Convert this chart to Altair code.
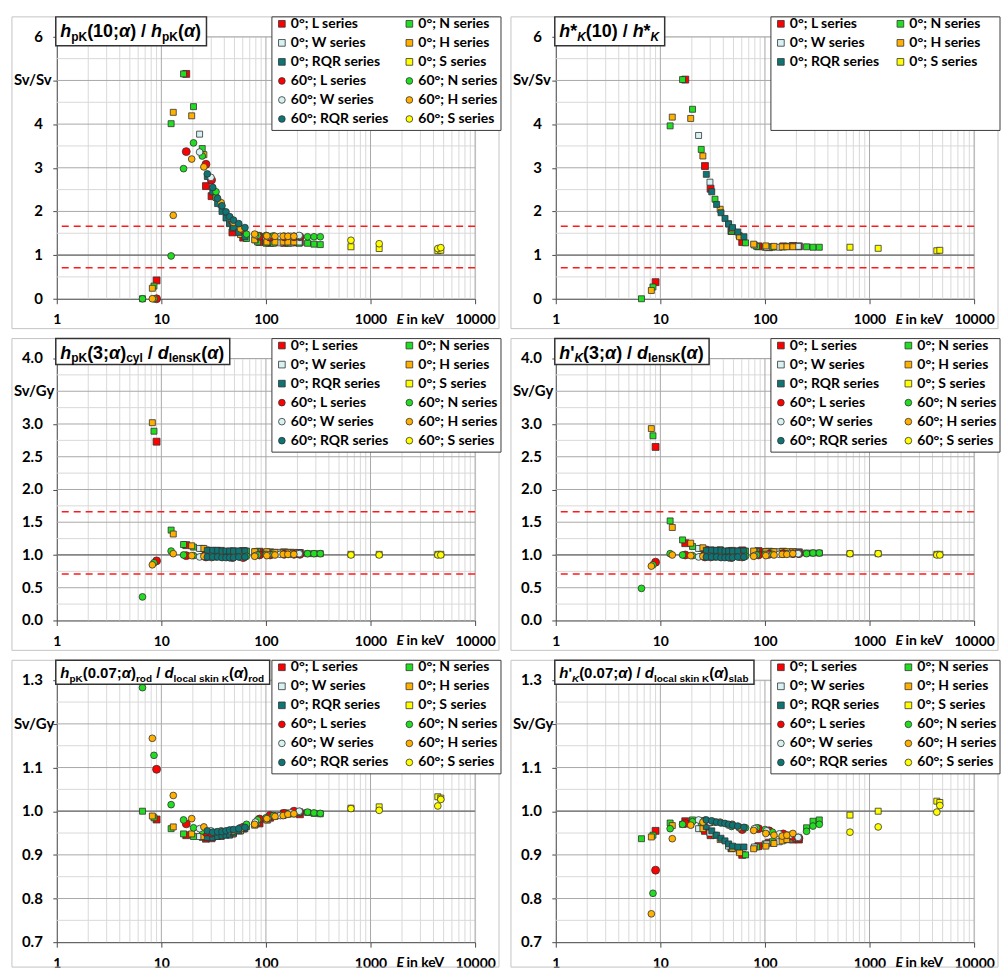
import altair as alt
import pandas as pd

# ---------------- energies (keV) of the radiation qualities ----------------
E_L = [9.0, 17.3, 26.7, 30.2, 47.8, 60.6, 86.8, 109.5, 149.4, 185.5, 211.3]
E_N = [6.6, 8.5, 12.4, 16.3, 20.3, 24.6, 33.3, 47.9, 65.2, 83.3, 100.4, 118, 164, 208, 250, 288, 331]
E_W = [23.2, 29.8, 44.8, 56.6, 79.2, 104, 137, 173, 208]
E_H = [8.2, 13.0, 19.5, 25.5, 37.3, 48.8, 57.2, 78, 102, 122, 146, 162, 185]
E_RQR = [27.5, 31, 34.5, 38, 41.5, 45, 49, 55, 63]
E_S = [650, 1210, 4400, 4700]

KEYS = ["0L", "0N", "0W", "0H", "0RQR", "0S", "60L", "60N", "60W", "60H", "60RQR", "60S"]
LABELS = ["0°; L series", "0°; N series", "0°; W series", "0°; H series", "0°; RQR series", "0°; S series",
          "60°; L series", "60°; N series", "60°; W series", "60°; H series", "60°; RQR series", "60°; S series"]
# legend fills column by column: left column first, then right column
LEGEND_ORDER = ["0L", "0W", "0RQR", "60L", "60W", "60RQR", "0N", "0H", "0S", "60N", "60H", "60S"]
FILL = {"L": "#ff0000", "N": "#22dd22", "W": "#d6f2f2", "H": "#ffb000", "RQR": "#0e7474", "S": "#ffff00"}

# ---------------- panel values (ratios) ----------------
P1 = {
    "0L": [0.42, 5.15, 2.58, 2.35, 1.52, 1.40, 1.30, 1.28, 1.28, 1.29, 1.30],
    "0N": [0.0, 0.29, 4.01, 5.15, 4.40, 3.44, 2.32, 1.62, 1.38, 1.30, 1.27, 1.27, 1.27, 1.27, 1.27, 1.25, 1.24],
    "0W": [3.77, 2.72, 1.72, 1.50, 1.35, 1.30, 1.28, 1.28, 1.30],
    "0H": [0.24, 4.27, 4.19, 3.30, 2.15, 1.65, 1.47, 1.35, 1.30, 1.30, 1.30, 1.30, 1.30],
    "0RQR": [2.80, 2.45, 2.18, 2.00, 1.85, 1.73, 1.63, 1.52, 1.42],
    "0S": [1.19, 1.15, 1.10, 1.11],
    "60L": [0.0, 3.37, 3.08, 2.72, 1.78, 1.58, 1.43, 1.41, 1.42, 1.42, 1.42],
    "60N": [0.0, 0.0, 0.98, 2.98, 3.57, 3.27, 2.45, 1.80, 1.48, 1.45, 1.45, 1.44, 1.43, 1.43, 1.42, 1.42, 1.42],
    "60W": [3.36, 2.78, 1.86, 1.63, 1.46, 1.43, 1.43, 1.43, 1.45],
    "60H": [0.0, 1.91, 3.20, 3.02, 2.20, 1.75, 1.60, 1.48, 1.44, 1.43, 1.43, 1.43, 1.43],
    "60RQR": [2.86, 2.55, 2.30, 2.13, 1.99, 1.88, 1.80, 1.72, 1.63],
    "60S": [1.34, 1.26, 1.15, 1.17],
}
P2 = {
    "0L": [0.38, 5.02, 3.04, 2.52, 1.55, 1.30, 1.20, 1.18, 1.20, 1.21, 1.20],
    "0N": [0.0, 0.27, 3.96, 5.02, 4.34, 3.42, 2.28, 1.55, 1.28, 1.20, 1.18, 1.18, 1.20, 1.20, 1.19, 1.18, 1.18],
    "0W": [3.74, 2.67, 1.72, 1.45, 1.23, 1.18, 1.18, 1.20, 1.20],
    "0H": [0.19, 4.16, 4.13, 3.27, 2.05, 1.60, 1.42, 1.25, 1.21, 1.20, 1.19, 1.19, 1.19],
    "0RQR": [2.85, 2.45, 2.16, 1.97, 1.84, 1.71, 1.63, 1.53, 1.42],
    "0S": [1.18, 1.155, 1.10, 1.11],
}
P3 = {
    "0L": [2.73, 1.15, 1.07, 1.06, 1.05, 1.06, 1.05, 1.04, 1.04, 1.03, 1.03],
    "0N": [None, 2.89, 1.38, 1.16, 1.12, 1.10, 1.07, 1.06, 1.06, 1.05, 1.04, 1.04, 1.03, 1.03, 1.02, 1.02, 1.02],
    "0W": [1.10, 1.07, 1.05, 1.05, 1.05, 1.04, 1.04, 1.04, 1.03],
    "0H": [3.02, 1.32, 1.14, 1.10, 1.07, 1.06, 1.06, 1.05, 1.05, 1.04, 1.04, 1.04, 1.04],
    "0RQR": [1.07, 1.07, 1.07, 1.06, 1.06, 1.06, 1.06, 1.06, 1.06],
    "0S": [1.01, 1.01, 1.01, 1.01],
    "60L": [0.91, 0.99, 0.97, 0.97, 0.96, 0.96, 1.00, 1.00, 1.01, 1.01, 1.01],
    "60N": [0.36, 0.88, 1.06, 1.00, 0.99, 0.98, 0.97, 0.97, 0.98, 1.00, 1.01, 1.01, 1.01, 1.02, 1.02, 1.02, 1.02],
    "60W": [0.97, 0.97, 0.96, 0.97, 0.99, 1.00, 1.01, 1.01, 1.02],
    "60H": [0.85, 1.02, 0.99, 0.98, 0.97, 0.97, 0.97, 0.98, 0.99, 1.00, 1.01, 1.01, 1.01],
    "60RQR": [0.97, 0.97, 0.97, 0.96, 0.96, 0.96, 0.96, 0.97, 0.97],
    "60S": [1.00, 1.00, 1.00, 1.00],
}
P4 = {
    "0L": [2.65, 1.18, 1.08, 1.07, 1.06, 1.07, 1.06, 1.05, 1.05, 1.04, 1.04],
    "0N": [None, 2.82, 1.52, 1.23, 1.13, 1.10, 1.07, 1.06, 1.06, 1.05, 1.05, 1.05, 1.04, 1.04, 1.03, 1.03, 1.03],
    "0W": [1.10, 1.07, 1.06, 1.06, 1.05, 1.05, 1.05, 1.04, 1.04],
    "0H": [2.93, 1.42, 1.18, 1.11, 1.08, 1.07, 1.06, 1.06, 1.05, 1.05, 1.05, 1.05, 1.05],
    "0RQR": [1.07, 1.07, 1.07, 1.07, 1.06, 1.06, 1.06, 1.06, 1.06],
    "0S": [1.02, 1.02, 1.01, 1.01],
    "60L": [0.89, 1.00, 0.97, 0.97, 0.96, 0.97, 1.00, 1.01, 1.02, 1.02, 1.02],
    "60N": [0.49, 0.85, 1.02, 1.00, 0.99, 0.98, 0.97, 0.97, 0.98, 1.00, 1.01, 1.01, 1.02, 1.02, 1.02, 1.03, 1.03],
    "60W": [0.97, 0.97, 0.96, 0.97, 0.99, 1.00, 1.01, 1.02, 1.02],
    "60H": [0.83, 1.00, 0.99, 0.98, 0.97, 0.97, 0.97, 0.98, 0.99, 1.00, 1.01, 1.01, 1.02],
    "60RQR": [0.97, 0.97, 0.97, 0.96, 0.96, 0.96, 0.96, 0.97, 0.97],
    "60S": [1.02, 1.02, 1.00, 1.00],
}
P5 = {
    "0L": [0.981, 0.945, 0.937, 0.938, 0.950, 0.960, 0.972, 0.985, 0.995, 0.997, 0.993],
    "0N": [1.000, 0.985, 0.960, 0.948, 0.942, 0.940, 0.942, 0.948, 0.965, 0.975, 0.982, 0.990, 0.995, 0.998, 0.997, 0.995, 0.994],
    "0W": [0.942, 0.940, 0.945, 0.955, 0.970, 0.980, 0.990, 0.995, 0.997],
    "0H": [0.989, 0.964, 0.948, 0.942, 0.942, 0.948, 0.955, 0.968, 0.980, 0.988, 0.990, 0.993, 0.994],
    "0RQR": [0.940, 0.940, 0.942, 0.944, 0.945, 0.947, 0.950, 0.955, 0.960],
    "0S": [1.007, 1.010, 1.033, 1.030],
    "60L": [1.096, 0.971, 0.952, 0.950, 0.955, 0.963, 0.982, 0.990, 0.995, 1.000, 0.998],
    "60N": [1.283, 1.128, 1.015, 0.980, 0.962, 0.955, 0.952, 0.955, 0.970, 0.980, 0.985, 0.990, 0.995, 0.998, 0.998, 0.996, 0.995],
    "60W": [0.960, 0.955, 0.955, 0.962, 0.975, 0.983, 0.990, 0.996, 1.000],
    "60H": [1.167, 1.036, 0.983, 0.964, 0.955, 0.955, 0.960, 0.970, 0.983, 0.988, 0.990, 0.993, 0.994],
    "60RQR": [0.955, 0.952, 0.953, 0.953, 0.955, 0.957, 0.958, 0.960, 0.963],
    "60S": [1.006, 1.002, 1.012, 1.027],
}
P6 = {
    "0L": [0.955, 0.977, 0.955, 0.945, 0.915, 0.900, 0.920, 0.928, 0.935, 0.935, 0.935],
    "0N": [0.937, 0.945, 0.973, 0.970, 0.980, 0.965, 0.945, 0.915, 0.900, 0.918, 0.925, 0.930, 0.935, 0.940, 0.962, 0.977, 0.980],
    "0W": [0.960, 0.950, 0.920, 0.910, 0.918, 0.925, 0.930, 0.935, 0.938],
    "0H": [0.941, 0.967, 0.970, 0.960, 0.935, 0.915, 0.905, 0.914, 0.920, 0.926, 0.932, 0.935, 0.938],
    "0RQR": [0.965, 0.955, 0.945, 0.938, 0.932, 0.925, 0.920, 0.918, 0.918],
    "0S": [0.991, 1.000, 1.023, 1.020],
    "60L": [0.865, 0.972, 0.978, 0.975, 0.968, 0.958, 0.960, 0.955, 0.948, 0.942, 0.938],
    "60N": [None, 0.812, 0.960, 0.970, 0.976, 0.978, 0.975, 0.965, 0.962, 0.962, 0.958, 0.952, 0.945, 0.940, 0.954, 0.966, 0.970],
    "60W": [0.980, 0.975, 0.968, 0.962, 0.960, 0.955, 0.948, 0.945, 0.940],
    "60H": [0.765, 0.937, 0.968, 0.975, 0.975, 0.970, 0.963, 0.956, 0.949, 0.945, 0.943, 0.945, 0.949],
    "60RQR": [0.980, 0.978, 0.975, 0.973, 0.972, 0.970, 0.968, 0.966, 0.963],
    "60S": [0.952, 0.964, 0.998, 1.013],
}

RED_LEVELS = [0.71, 1.66]
X_TICKS = [1, 10, 100, 1000, 10000]

# title segments: (text, role m=main / s=subscript, italic)
T1 = [("h", "m", 1), ("pK", "s", 0), ("(10;", "m", 0), ("α", "m", 1), (") / ", "m", 0),
      ("h", "m", 1), ("pK", "s", 0), ("(", "m", 0), ("α", "m", 1), (")", "m", 0)]
T2 = [("h", "m", 1), ("*", "m", 0), ("K", "s", 1), ("(10) / ", "m", 0), ("h", "m", 1), ("*", "m", 0), ("K", "s", 1)]
T3 = [("h", "m", 1), ("pK", "s", 0), ("(3;", "m", 0), ("α", "m", 1), (")", "m", 0), ("cyl", "s", 0),
      (" / ", "m", 0), ("d", "m", 1), ("lensK", "s", 0), ("(", "m", 0), ("α", "m", 1), (")", "m", 0)]
T4 = [("h", "m", 1), ("'", "m", 0), ("K", "s", 1), ("(3;", "m", 0), ("α", "m", 1), (") / ", "m", 0),
      ("d", "m", 1), ("lensK", "s", 0), ("(", "m", 0), ("α", "m", 1), (")", "m", 0)]
T5 = [("h", "m", 1), ("pK", "s", 0), ("(0.07;", "m", 0), ("α", "m", 1), (")", "m", 0), ("rod", "s", 0),
      (" / ", "m", 0), ("d", "m", 1), ("local skin K", "s", 0), ("(", "m", 0), ("α", "m", 1), (")", "m", 0),
      ("rod", "s", 0)]
T6 = [("h", "m", 1), ("'", "m", 0), ("K", "s", 1), ("(0.07;", "m", 0), ("α", "m", 1), (") / ", "m", 0),
      ("d", "m", 1), ("local skin K", "s", 0), ("(", "m", 0), ("α", "m", 1), (")", "m", 0), ("slab", "s", 0)]

# ---------------- styling ----------------
PW, PH = 420, 263
GRID_MINOR = "#d9d9d9"
GRID_MAJOR = "#a8a8a8"
REF_LINE = "#6e6e6e"
AXIS_C = "#4a4a4a"
BORDER = "#c4c4c4"
EDGE = "#333333"
FONT = "Lato"
TFONT = "Liberation Sans"

WID = {" ": 278, "(": 333, ")": 333, "*": 389, ".": 278, "/": 278, ";": 333, "'": 238, "K": 722,
       "a": 556, "b": 611, "c": 556, "d": 611, "e": 556, "h": 611, "i": 278, "k": 556, "l": 278,
       "n": 611, "o": 611, "p": 611, "r": 389, "s": 556, "y": 556, "α": 620}


def tw(s, size):
    return sum(WID.get(c, 556) for c in s) * size / 1000.0


DUMMY = pd.DataFrame({"d": [0]})


def deco_rect(x1, x2, y1, y2, **kw):
    return alt.Chart(DUMMY).mark_rect(**kw).encode(
        x=alt.value(x1), x2=alt.value(x2), y=alt.value(y1), y2=alt.value(y2))


def deco_text(txt, x, y, **kw):
    return alt.Chart(DUMMY).mark_text(text=txt, align="left", baseline="alphabetic", color="black", **kw).encode(
        x=alt.value(x), y=alt.value(y))


def fam(k):
    return k[2:] if k.startswith("60") else k[1:]


ENERGY = {"L": E_L, "N": E_N, "W": E_W, "H": E_H, "RQR": E_RQR, "S": E_S}


def points_df(vals):
    rows = []
    for k, lab in zip(KEYS, LABELS):
        if k not in vals:
            continue
        f = fam(k)
        if k.startswith("60"):
            grp = "cL" if f == "L" else "c"
        else:
            grp = "sL" if f == "L" else "s"
        for e, v in zip(ENERGY[f], vals[k]):
            if v is None:
                continue
            rows.append({"E": e, "v": v, "series": lab, "grp": grp})
    return pd.DataFrame(rows)


def build_panel(vals, ydom, yticks, ymajor, yminor, unit_val, unit_lbl, fmt, segs,
                main, sub, base, subdy, box_y2, red, border_y2):
    keys = [k for k in LEGEND_ORDER if k in vals]
    dom = [LABELS[KEYS.index(k)] for k in keys]
    rng_c = [FILL[fam(k)] for k in keys]
    rng_s = ["circle" if k.startswith("60") else "square" for k in keys]

    xaxis = alt.Axis(values=X_TICKS, format="d", title=None, grid=False, labelFont=FONT, labelFontSize=14,
                     labelFontWeight="bold", labelColor="black", labelFlush=False, labelOverlap=False,
                     labelBaseline="alphabetic", labelPadding=20, tickSize=5, tickColor=AXIS_C,
                     domainColor=AXIS_C)
    yaxis = alt.Axis(values=yticks, labels=False, title=None, grid=False, tickSize=4, tickColor=AXIS_C,
                     domainColor=AXIS_C)
    X = alt.X("E:Q", scale=alt.Scale(type="log", domain=[1, 10000], nice=False), axis=xaxis)
    Y = alt.Y("v:Q", scale=alt.Scale(domain=ydom, nice=False, zero=False), axis=yaxis)

    layers = [deco_rect(-45, 444, -20, border_y2, filled=False, stroke=BORDER, strokeWidth=1)]
    vminor = [m * 10 ** d for d in range(4) for m in range(2, 10)]
    layers.append(alt.Chart(pd.DataFrame({"E": vminor})).mark_rule(color=GRID_MINOR, strokeWidth=1).encode(x=X))
    layers.append(alt.Chart(pd.DataFrame({"v": yminor})).mark_rule(color=GRID_MINOR, strokeWidth=1).encode(y=Y))
    layers.append(alt.Chart(pd.DataFrame({"E": [10, 100, 1000, 10000]})).mark_rule(
        color=GRID_MAJOR, strokeWidth=1).encode(x=X))
    layers.append(alt.Chart(pd.DataFrame({"v": ymajor})).mark_rule(color=GRID_MAJOR, strokeWidth=1).encode(y=Y))
    layers.append(alt.Chart(pd.DataFrame({"v": [1.0]})).mark_rule(color=REF_LINE, strokeWidth=1.3).encode(y=Y))
    if red:
        layers.append(alt.Chart(pd.DataFrame({"v": RED_LEVELS})).mark_rule(
            color="#ff1a1a", strokeWidth=1.6, strokeDash=[7, 5]).encode(y=Y))

    # y tick labels (drawn through the y scale)
    lab_vals = [t for t in yticks if abs(t - unit_val) > 1e-9]
    lab_txt = [format(t, fmt) for t in lab_vals]
    layers.append(alt.Chart(pd.DataFrame({"v": lab_vals, "lab": lab_txt})).mark_text(
        align="right", baseline="middle", font=FONT, fontSize=15, fontWeight="bold", color="black").encode(
        x=alt.value(-14), y=Y, text="lab:N"))

    # legend frame
    layers.append(deco_rect(216, 446, -20, 94, fill="white", stroke="#3a3a3a", strokeWidth=1))

    leg = alt.Legend(title=None, orient="none", legendX=219, legendY=-20, columns=2, columnPadding=14,
                     rowPadding=5.1, padding=0, labelFont=FONT, labelFontSize=14, labelFontWeight="bold",
                     labelColor="black", labelOffset=2, symbolSize=45, symbolStrokeColor=EDGE,
                     symbolStrokeWidth=0.8)
    color = alt.Color("series:N", scale=alt.Scale(domain=dom, range=rng_c), legend=leg)
    shape = alt.Shape("series:N", scale=alt.Scale(domain=dom, range=rng_s), legend=leg)

    df = points_df(vals)
    for grp, size in [("sL", 48), ("s", 36), ("cL", 64), ("c", 46)]:
        sdf = df[df["grp"] == grp]
        if len(sdf) == 0:
            continue
        layers.append(alt.Chart(sdf).mark_point(filled=True, size=size, stroke=EDGE, strokeWidth=0.8,
                                                opacity=1).encode(x=X, y=Y, color=color, shape=shape))

    # title box + segments
    x = 3.5
    seg_layers = []
    for text, role, it in segs:
        fs = main if role == "m" else sub
        dy = 0 if role == "m" else subdy
        lead = len(text) - len(text.lstrip(" "))
        seg_layers.append(deco_text(text.strip(), x + tw(" " * lead, fs), base + dy, font=TFONT, fontSize=fs,
                                    fontWeight="bold", fontStyle="italic" if it else "normal"))
        x += tw(text, fs)
    layers.append(deco_rect(-1, x + 5.5, -20, box_y2, fill="white", stroke="#333333", strokeWidth=1.5))
    layers.extend(seg_layers)

    # unit label over the axis
    layers.append(alt.Chart(DUMMY).mark_text(text=unit_lbl, align="left", baseline="middle", font=FONT,
                                             fontSize=15, fontWeight="bold", color="black").encode(
        x=alt.value(-43), y=alt.datum(unit_val)))
    # "E in keV"
    layers.append(deco_text("E", 341, PH + 25, font=FONT, fontSize=14, fontWeight="bold", fontStyle="italic"))
    layers.append(deco_text("in keV", 351, PH + 25, font=FONT, fontSize=14, fontWeight="bold"))

    return alt.layer(*layers).properties(width=PW, height=PH)


Y1_TICKS = [0, 1, 2, 3, 4, 5, 6]
Y1_MAJOR = [1, 2, 3, 4, 5, 6]
Y1_MINOR = [0.5, 1.5, 2.5, 3.5, 4.5, 5.5]
Y3_TICKS = [0.0, 0.5, 1.0, 1.5, 2.0, 2.5, 3.0, 3.5, 4.0]
Y3_MAJOR = [0.5, 1.0, 1.5, 2.0, 2.5, 3.0, 3.5, 4.0]
Y3_MINOR = [0.25, 0.75, 1.25, 1.75, 2.25, 2.75, 3.25, 3.75]
Y5_TICKS = [0.7, 0.8, 0.9, 1.0, 1.1, 1.2, 1.3]
Y5_MAJOR = [0.8, 0.9, 1.0, 1.1, 1.2, 1.3]
Y5_MINOR = [0.75, 0.85, 0.95, 1.05, 1.15, 1.25]

panels = [
    build_panel(P1, [0, 6], Y1_TICKS, Y1_MAJOR, Y1_MINOR, 5, "Sv/Sv", "d", T1, 18, 12, 0, 4, 9, True, 293),
    build_panel(P2, [0, 6], Y1_TICKS, Y1_MAJOR, Y1_MINOR, 5, "Sv/Sv", "d", T2, 18, 12, 0, 4, 9, True, 293),
    build_panel(P3, [0, 4], Y3_TICKS, Y3_MAJOR, Y3_MINOR, 3.5, "Sv/Gy", ".1f", T3, 18, 12, 0, 4, 6, True, 293),
    build_panel(P4, [0, 4], Y3_TICKS, Y3_MAJOR, Y3_MINOR, 3.5, "Sv/Gy", ".1f", T4, 18, 12, 0, 4, 6, True, 293),
    build_panel(P5, [0.7, 1.3], Y5_TICKS, Y5_MAJOR, Y5_MINOR, 1.2, "Sv/Gy", ".1f", T5, 15, 10, -2, 3.5, 4, False, 288),
    build_panel(P6, [0.7, 1.3], Y5_TICKS, Y5_MAJOR, Y5_MINOR, 1.2, "Sv/Gy", ".1f", T6, 15, 10, -2, 3.5, 4, False, 288),
]

chart = alt.concat(*panels, columns=2, spacing={"row": 60, "column": 81}, bounds="flush").resolve_scale(
    x="independent", y="independent", color="independent", shape="independent"
).resolve_legend(color="independent", shape="independent").properties(
    padding={"left": 11, "top": 13, "right": 0, "bottom": 0}
).configure_view(strokeWidth=0).configure(background="white")

chart.save("out.html", embed_options={"renderer": "svg", "actions": False})
